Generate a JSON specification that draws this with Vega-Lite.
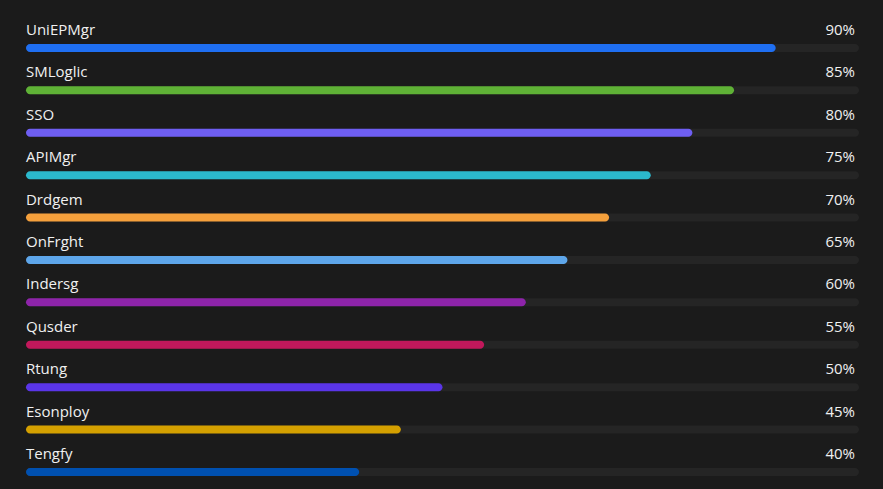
{
  "$schema": "https://vega.github.io/schema/vega-lite/v6.json",
  "width": 883,
  "height": 489,
  "autosize": {"type": "fit", "contains": "padding"},
  "padding": 0,
  "background": "#1b1b1b",
  "config": {"view": {"stroke": null}},
  "data": {
    "values": [
      {"name": "UniEPMgr", "value": 0.90, "color": "#1f6ff2"},
      {"name": "SMLoglic", "value": 0.85, "color": "#5fb236"},
      {"name": "SSO", "value": 0.80, "color": "#6e5ef2"},
      {"name": "APIMgr", "value": 0.75, "color": "#2bb8cc"},
      {"name": "Drdgem", "value": 0.70, "color": "#f5a03c"},
      {"name": "OnFrght", "value": 0.65, "color": "#5ea6ea"},
      {"name": "Indersg", "value": 0.60, "color": "#8e24aa"},
      {"name": "Qusder", "value": 0.55, "color": "#c2185b"},
      {"name": "Rtung", "value": 0.50, "color": "#5a35e8"},
      {"name": "Esonploy", "value": 0.45, "color": "#d4a000"},
      {"name": "Tengfy", "value": 0.40, "color": "#0050b0"}
    ]
  },
  "layer": [
    {
      "mark": {"type": "bar", "height": 8, "cornerRadius": 4, "color": "#252525"},
      "encoding": {
        "y": {"field": "name", "type": "nominal", "sort": null, "scale": {"type": "point", "padding": 0.7665, "align": 0.738}, "axis": null},
        "x": {"datum": 1, "type": "quantitative", "scale": {"domain": [-0.0312, 1.0288], "zero": false, "nice": false}, "axis": null},
        "x2": {"datum": 0}
      }
    },
    {
      "mark": {"type": "bar", "height": 8, "cornerRadius": 4},
      "encoding": {
        "y": {"field": "name", "type": "nominal", "sort": null},
        "x": {"field": "value", "type": "quantitative"},
        "x2": {"datum": 0},
        "color": {"field": "color", "type": "nominal", "scale": null, "legend": null}
      }
    },
    {
      "mark": {"type": "text", "align": "left", "baseline": "alphabetic", "dy": -13, "fontSize": 15, "font": "Open Sans", "color": "#f0f0f0"},
      "encoding": {
        "y": {"field": "name", "type": "nominal", "sort": null},
        "x": {"datum": 0, "type": "quantitative"},
        "text": {"field": "name"}
      }
    },
    {
      "mark": {"type": "text", "align": "right", "baseline": "alphabetic", "dy": -13, "dx": -4, "fontSize": 15, "font": "Open Sans", "color": "#f0f0f0"},
      "encoding": {
        "y": {"field": "name", "type": "nominal", "sort": null},
        "x": {"datum": 1, "type": "quantitative"},
        "text": {"field": "value", "type": "quantitative", "format": ".0%"}
      }
    }
  ]
}
